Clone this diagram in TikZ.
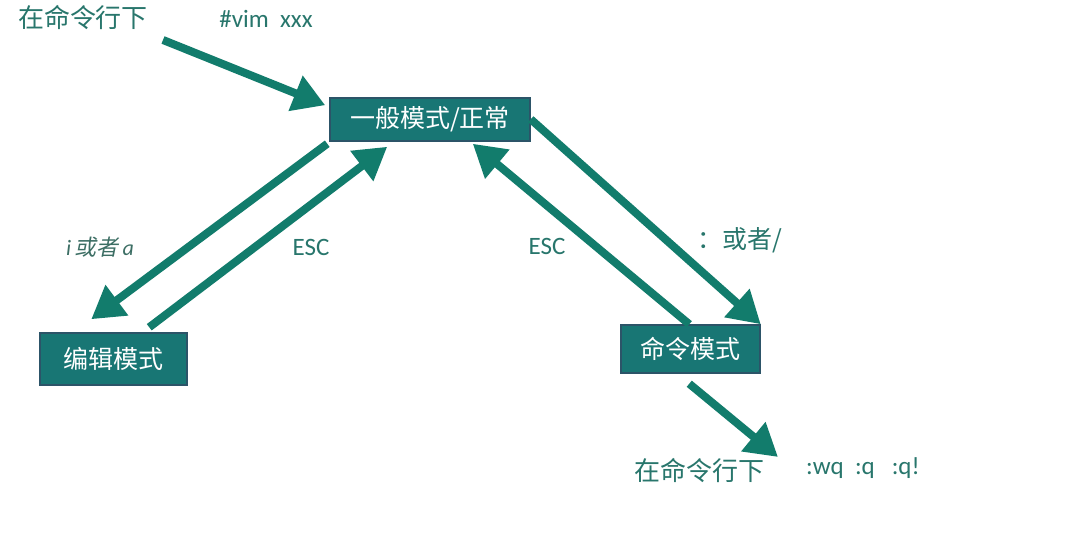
\documentclass[tikz,border=0pt]{standalone}
\usepackage{fontspec}
\setmainfont{Carlito}
\newfontfamily\cjk{Noto Sans CJK SC}
\newfontfamily\cjkit[FakeSlant=0.2]{Noto Sans CJK SC}
\usetikzlibrary{arrows.meta,calc}
\definecolor{boxfill}{RGB}{24,118,116}
\definecolor{boxline}{RGB}{44,84,104}
\definecolor{arr}{RGB}{18,124,108}
\definecolor{lbl}{RGB}{40,118,108}
\tikzset{
  mode/.style={draw=boxline, line width=1.5pt, fill=boxfill, text=white, inner sep=0pt, font=\cjk\fontsize{25}{27}\selectfont},
  bigarrow/.style={draw=arr, line width=8pt, -{Triangle[length=32pt,width=36pt]}},
  lab/.style={text=lbl, inner sep=0pt, font=\fontsize{25}{27}\selectfont},
  cjklab/.style={text=lbl, inner sep=0pt, font=\cjk\fontsize{26}{28}\selectfont}
}
\begin{document}
\begin{tikzpicture}[x=1pt,y=-1pt]
\useasboundingbox (0,0) rectangle (1088,537);
\fill[white] (0,0) rectangle (1088,537);
% boxes
\node[mode, minimum width=200pt, minimum height=43pt] (gen) at (430,119.5) {一般模式/正常};
\node[mode, minimum width=147pt, minimum height=52pt] (edit) at (113.5,359) {编辑模式};
\node[mode, minimum width=139pt, minimum height=48pt] (cmd) at (690.5,349) {命令模式};
% labels
\node[cjklab] (t1) at (83,18) {在命令行下};
\node[lab] (t2) at (266,19) {\#vim\ \ xxx};
\node[lab, text={rgb,255:red,60;green,110;blue,100}, font=\fontsize{22}{24}\selectfont] (t3) at (100,247) {\itshape i\,{\cjkit 或者}\,a};
\node[lab] (t4) at (311,247) {ESC};
\node[lab] (t5) at (547,246) {ESC};
\node[lab] (t6) at (740,240) {\cjk ：或者/};
\node[cjklab] (t7) at (699,471) {在命令行下};
\node[lab] (t8) at (863,468) {:wq\ \ :q\ \ \ :q!};
% free ends
\coordinate (s1) at (163,40);
\coordinate (e6) at (778,457);
% arrows
\draw[bigarrow] (s1) -- ($(gen.north west)+(-4,8)$);
\draw[bigarrow] ($(gen.south west)+(-2,2)$) -- ($(edit.north west)+(52,-13)$);
\draw[bigarrow] ($(edit.north west)+(110,-5)$) -- ($(gen.south west)+(58,5)$);
\draw[bigarrow] ($(cmd.north west)+(69,0)$) -- ($(gen.south east)+(-58,2)$);
\draw[bigarrow] ($(gen.north east)+(0,22)$) -- ($(cmd.north east)+(0,0)$);
\draw[bigarrow] ($(cmd.south west)+(69,10)$) -- (e6);
\end{tikzpicture}
\end{document}
